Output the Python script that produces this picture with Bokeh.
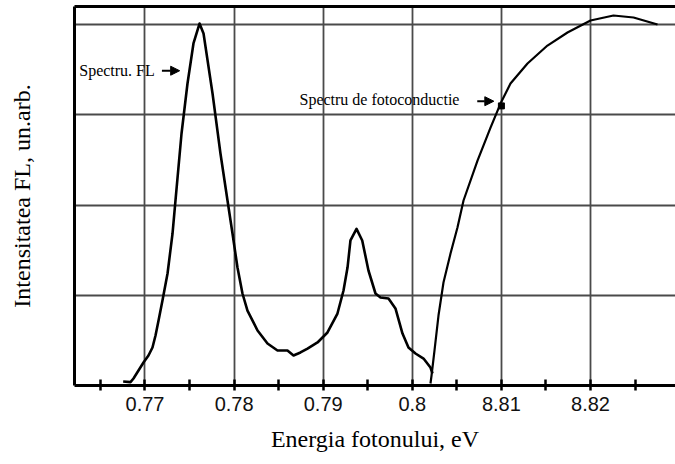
from bokeh.plotting import figure
from bokeh.models import Range1d, FixedTicker, LinearAxis, Label, Arrow, NormalHead
from bokeh.embed import file_html
from bokeh.resources import INLINE

# ---- data ----
fl_x = [0.76755, 0.76837, 0.76871, 0.76927, 0.76983, 0.77039, 0.77084, 0.77118, 0.77152, 0.77196,
        0.77253, 0.77309, 0.77342, 0.77410, 0.77477, 0.77544, 0.77612, 0.77657, 0.77758, 0.77847,
        0.77926, 0.77982, 0.78038, 0.78094, 0.78150, 0.78263, 0.78375, 0.78487, 0.78599, 0.78667,
        0.78745, 0.78824, 0.78936, 0.79048, 0.79160, 0.79228, 0.79273, 0.79306, 0.79374, 0.79438,
        0.79508, 0.79587, 0.79643, 0.79733, 0.79811, 0.79890, 0.79957, 0.80036, 0.80126, 0.80204,
        0.80227]
fl_y = [0.044, 0.037, 0.078, 0.166, 0.255, 0.333, 0.421, 0.554, 0.721, 0.942,
        1.242, 1.685, 2.051, 2.794, 3.348, 3.792, 4.013, 3.902, 3.237, 2.572,
        2.051, 1.685, 1.308, 1.020, 0.831, 0.610, 0.466, 0.388, 0.388, 0.333,
        0.366, 0.410, 0.477, 0.588, 0.798, 1.053, 1.308, 1.608, 1.737, 1.608,
        1.275, 1.020, 0.976, 0.965, 0.854, 0.576, 0.421, 0.355, 0.299, 0.200,
        0.133]

pc_x = [0.80204, 0.80216, 0.80249, 0.80294, 0.80350, 0.80429, 0.80507, 0.80575, 0.80732, 0.80878,
        0.80990, 0.81102, 0.81293, 0.81517, 0.81742, 0.82000, 0.82258, 0.82483, 0.82752]
pc_y = [0.022, 0.111, 0.388, 0.776, 1.142, 1.463, 1.752, 2.051, 2.494, 2.860,
        3.126, 3.348, 3.570, 3.769, 3.914, 4.047, 4.102, 4.080, 4.002]

marker_x = [0.81]
marker_y = [3.10]

major_ticks = [0.77, 0.78, 0.79, 0.80, 0.81, 0.82]
tick_labels = ["0.77", "0.78", "0.79", "0.8", "8.81", "8.82"]
minor_ticks = [0.765, 0.775, 0.785, 0.795, 0.805, 0.815, 0.825]
y_grid = [1, 2, 3, 4]

x_title = "Energia fotonului, eV"
y_title = "Intensitatea FL, un.arb."
note_fl = "Spectru. FL"
note_pc = "Spectru de fotoconductie"

SERIF = "Liberation Serif"

p = figure(width=675, height=464, output_backend="svg", toolbar_location=None,
           x_range=Range1d(0.762088, 0.82954), y_range=Range1d(0, 4.202),
           min_border_left=74, min_border_right=0, min_border_top=6, min_border_bottom=79)
p.outline_line_color = None
p.background_fill_color = "white"
p.border_fill_color = "white"

# x axis
xa = p.xaxis[0]
xa.ticker = FixedTicker(ticks=major_ticks, minor_ticks=minor_ticks)
xa.major_label_overrides = dict(zip(major_ticks, tick_labels))
xa.axis_line_width = 3
xa.axis_line_color = "black"
xa.major_tick_in = 6
xa.major_tick_out = 5
xa.minor_tick_in = 6
xa.minor_tick_out = 5
xa.major_tick_line_width = 2.5
xa.minor_tick_line_width = 2.5
xa.major_tick_line_color = "black"
xa.minor_tick_line_color = "black"
xa.major_label_text_font = "Liberation Sans"
xa.major_label_text_font_size = "20px"
xa.major_label_text_color = "#111111"
xa.major_label_standoff = 6
xa.axis_label = x_title
xa.axis_label_text_font = SERIF
xa.axis_label_text_font_size = "24px"
xa.axis_label_text_font_style = "normal"
xa.axis_label_text_color = "black"
xa.axis_label_standoff = 12

# y axis (no ticks, no labels; grid gets its own ticker)
ya = p.yaxis[0]
ya.ticker = FixedTicker(ticks=[])
ya.axis_line_width = 3
ya.axis_line_color = "black"
ya.major_tick_line_color = None
ya.minor_tick_line_color = None
ya.major_label_standoff = 0
ya.axis_label = y_title
ya.axis_label_text_font = SERIF
ya.axis_label_text_font_size = "24px"
ya.axis_label_text_font_style = "normal"
ya.axis_label_text_color = "black"
ya.axis_label_standoff = 40

# top border
top = LinearAxis(ticker=FixedTicker(ticks=[]), axis_line_width=3, axis_line_color="black",
                 major_tick_line_color=None, minor_tick_line_color=None,
                 major_label_standoff=0)
p.add_layout(top, "above")

# grid
p.xgrid.grid_line_color = "#4a4a4a"
p.xgrid.grid_line_width = 1.8
p.ygrid.ticker = FixedTicker(ticks=y_grid)
p.ygrid.grid_line_color = "#4a4a4a"
p.ygrid.grid_line_width = 1.8

# curves
p.line(fl_x, fl_y, line_color="black", line_width=2.6, line_join="round")
p.line(pc_x, pc_y, line_color="black", line_width=2.2, line_join="round")
p.scatter(marker_x, marker_y, marker="square", size=6, color="black")

# annotations
p.add_layout(Label(x=0.76262, y=3.49, text=note_fl, text_font=SERIF, text_font_size="16px",
                   text_baseline="middle", text_align="left", text_color="black"))
p.add_layout(Arrow(x_start=0.77190, y_start=3.49, x_end=0.77389, y_end=3.49,
                   line_width=2, line_color="black",
                   end=NormalHead(size=9, fill_color="black", line_color="black")))
p.add_layout(Label(x=0.78734, y=3.17, text=note_pc, text_font=SERIF, text_font_size="16px",
                   text_baseline="middle", text_align="left", text_color="black"))
p.add_layout(Arrow(x_start=0.80729, y_start=3.152, x_end=0.80915, y_end=3.152,
                   line_width=2, line_color="black",
                   end=NormalHead(size=9, fill_color="black", line_color="black")))

open("out.html", "w").write(file_html(p, INLINE))
